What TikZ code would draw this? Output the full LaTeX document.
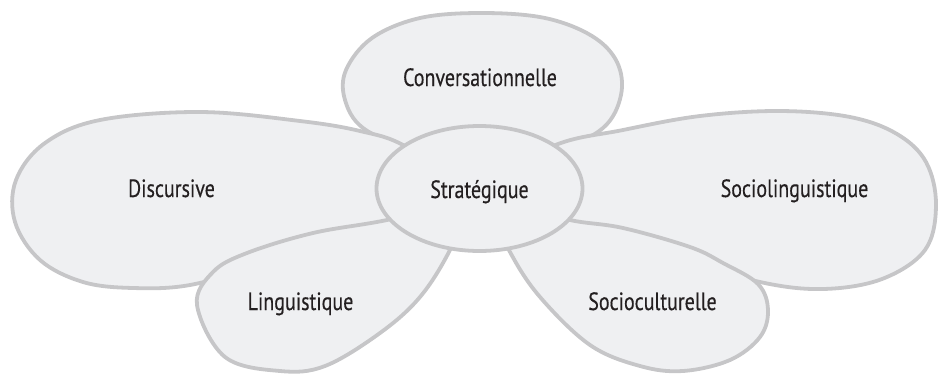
\documentclass[tikz,border=0pt]{standalone}
\usepackage{fontspec}
\setmainfont{PT Sans}[FakeStretch=0.8,FakeBold=0.35]
\usetikzlibrary{shapes.geometric}
\definecolor{petalfill}{RGB}{239,240,242}
\definecolor{petalline}{RGB}{198,198,200}
\definecolor{labeltext}{RGB}{35,31,32}
\tikzset{
  petal/.style={fill=petalfill, draw=petalline, line width=3.8pt, line join=round},
  lbl/.style={anchor=base, inner sep=0pt, text=labeltext, font=\fontsize{25}{30}\selectfont},
}
\begin{document}
\begin{tikzpicture}[x=1pt,y=-1pt]
\useasboundingbox (0,0) rectangle (940,373);
% Conversationnelle (back)
\filldraw[petal] plot[smooth cycle, tension=0.6] coordinates {(478,178) (410,150) (363,128) (345,100) (346,70) (372,38) (420,18) (482,13) (545,18) (592,36) (617,62) (621,95) (603,128) (555,152)};
% Discursive
\filldraw[petal] plot[smooth cycle, tension=0.6] coordinates {(470,190) (405,146) (360,131) (300,121) (200,112) (100,120) (45,143) (16,180) (15,222) (40,260) (83,282) (133,288) (190,285) (260,265) (350,235) (420,212)};
% Sociolinguistique
\filldraw[petal] plot[smooth cycle, tension=0.6] coordinates {(480,190) (553,146) (623,130) (700,116) (780,111) (850,117) (897,134) (926,162) (936,205) (925,250) (882,279) (823,289) (760,282) (680,258) (580,225)};
% Linguistique
\filldraw[petal] plot[smooth cycle, tension=0.6] coordinates {(470,200) (387,220) (313,233) (247,253) (213,272) (197,305) (225,357) (280,371) (325,366) (380,333) (420,297) (450,250)};
% Socioculturelle
\filldraw[petal] plot[smooth cycle, tension=0.6] coordinates {(490,205) (510,252) (540,297) (590,345) (640,366) (683,371) (730,360) (760,337) (768,310) (758,284) (723,263) (690,247) (623,228) (570,220) (520,205)};
% centre
\node[petal, ellipse, minimum width=206pt, minimum height=125pt, inner sep=0pt] (centre) at (479.5,188.5) {};
\node[lbl] (strat) at (479.5,198) {Stratégique};
\node[lbl] (conv) at (480,86) {Conversationnelle};
\node[lbl] (disc) at (171.5,197) {Discursive};
\node[lbl] (socling) at (794.5,197) {Sociolinguistique};
\node[lbl] (ling) at (300.5,310) {Linguistique};
\node[lbl] (soccult) at (652.5,310) {Socioculturelle};
\end{tikzpicture}
\end{document}
